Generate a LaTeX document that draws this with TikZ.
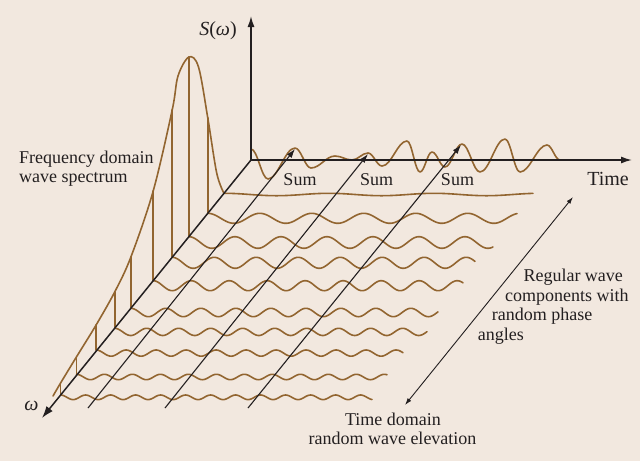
\documentclass[tikz,border=0pt]{standalone}
\usepackage{fontspec}
\setmainfont{Liberation Serif}
\usetikzlibrary{arrows.meta}
\definecolor{bg}{RGB}{242,232,223}
\definecolor{wavebrown}{RGB}{146,101,48}
\definecolor{ink}{RGB}{35,31,32}
\begin{document}
\begin{tikzpicture}[x=1pt,y=-1pt,
  wave/.style={draw=wavebrown, line width=1.6pt, line join=round, line cap=round},
  blk/.style={draw=ink, line width=1.1pt},
  axisline/.style={draw=ink, line width=1.5pt, -{Latex[length=11pt,width=7pt]}},
  sumarrow/.style={draw=ink, line width=1.1pt, -{Latex[length=9pt,width=6pt]}},
  dblarrow/.style={draw=ink, line width=0.9pt, {Latex[length=7pt,width=4.5pt]}-{Latex[length=7pt,width=4.5pt]}},
  lbl/.style={text=ink, font=\fontsize{18}{20}\selectfont, inner sep=0pt},
  biglbl/.style={text=ink, font=\fontsize{20}{22}\selectfont, inner sep=0pt}]
\fill[bg] (0,0) rectangle (640,461);
\useasboundingbox (0,0) rectangle (640,461);

% origin and axis ends
\coordinate (O) at (251,160);
\coordinate (Stip) at (251,16);
\coordinate (Ttip) at (632,160);
\coordinate (Wtip) at (42,418);

% regular wave rows: y-start / x-start / x-end / amplitude / wavelength
\foreach \ys/\xs/\xe/\A/\L [count=\i] in {
  193.3/224.0/533/1.2/105,
  213.3/207.8/517/5.0/52,
  236.7/188.9/493/5.8/46,
  257.3/172.2/475/5.5/42,
  280.7/153.2/463/5.0/38,
  308.3/130.9/438/4.2/35,
  328.3/114.7/427/3.6/32,
  350.0/96.1/403/3.1/30,
  374.3/76.4/387/2.7/28,
  395.0/60.6/372/2.3/25}{
  \coordinate (r\i) at (\xs,\ys);
  \draw[wave] plot[domain=\xs:\xe, samples=260] (\x, {\ys+\A*(1-cos(360/\L*(\x-\xs)))});
}

% spectrum tops
\foreach \xs/\yt [count=\i from 2] in {207.8/118, 188.9/57, 172.2/110, 153.2/191, 130.9/257, 114.7/292, 96.1/325, 76.4/357, 60.6/383}{
  \coordinate (s\i) at (\xs,\yt);
  \draw[wave] (r\i) -- (s\i);
}

% spectrum curve
\draw[wave] plot[smooth, tension=0.55] coordinates {
  (53,396) (60.6,383) (76.4,357) (96.1,325) (114.7,292) (130.9,257)
  (153.2,191) (172.2,110) (178,76) (188.9,57) (198.5,67) (207.8,118)
  (216.7,173) (224,193.3)};

% sum wave (time domain)
\draw[wave] (251,149)
  .. controls +(6.5,0) and +(-6.5,0) .. (268,179)
  .. controls +(10,0) and +(-10,0) .. (295,148)
  .. controls +(6,0) and +(-6,0) .. (311,168)
  .. controls +(9,0) and +(-9,0) .. (335,156)
  .. controls +(6.5,0) and +(-6.5,0) .. (352,160)
  .. controls +(6,0) and +(-6,0) .. (368,153)
  .. controls +(5.3,0) and +(-5.3,0) .. (382,166)
  .. controls +(9.5,0) and +(-9.5,0) .. (407,141)
  .. controls +(5,0) and +(-5,0) .. (420,172)
  .. controls +(4.6,0) and +(-4.6,0) .. (432,152)
  .. controls +(5,0) and +(-5,0) .. (445,167)
  .. controls +(6.5,0) and +(-6.5,0) .. (462,144)
  .. controls +(6.8,0) and +(-6.8,0) .. (480,172)
  .. controls +(9.5,0) and +(-9.5,0) .. (505,139)
  .. controls +(5.7,0) and +(-5.7,0) .. (520,172)
  .. controls +(10,0) and +(-10,0) .. (547,145)
  .. controls +(5,0) and +(-5,0) .. (560,160);

% axes
\draw[axisline] (O) -- (Stip);
\draw[axisline] (O) -- (Ttip);
\draw[draw=ink, line width=1.5pt, -{Latex[length=12pt,width=8pt]}] (O) -- (Wtip);

% summation arrows
\coordinate (b1) at (88,408);
\coordinate (b2) at (165,408);
\coordinate (b3) at (248,408);
\coordinate (t1) at (295,149);
\coordinate (t2) at (368,154);
\coordinate (t3) at (461,145);
\draw[sumarrow] (b1) -- (t1);
\draw[sumarrow] (b2) -- (t2);
\draw[sumarrow] (b3) -- (t3);

% double arrow
\coordinate (d1) at (573,197);
\coordinate (d2) at (405,405);
\draw[dblarrow] (d2) -- (d1);

% labels
\node[biglbl, anchor=base] (slabel) at (218,35) {\textit{S}(\textit{ω})};
\node[biglbl, anchor=base] (wlabel) at (31.5,410) {\textit{ω}};
\node[biglbl, anchor=base] (time) at (608,185) {Time};
\node[lbl, anchor=base] (sum1) at (300,185) {Sum};
\node[lbl, anchor=base] (sum2) at (376.7,185) {Sum};
\node[lbl, anchor=base] (sum3) at (457.5,185) {Sum};
\node[lbl, anchor=base west] (fd1) at (19,163) {Frequency domain};
\node[lbl, anchor=base west] (fd2) at (19,182) {wave spectrum};
\node[lbl, anchor=base west] (rw1) at (523.3,281) {Regular wave};
\node[lbl, anchor=base west] (rw2) at (505,301) {components with};
\node[lbl, anchor=base west] (rw3) at (491.7,320.7) {random phase};
\node[lbl, anchor=base west] (rw4) at (477.7,340) {angles};
\node[lbl, anchor=base] (td1) at (393,425) {Time domain};
\node[lbl, anchor=base] (td2) at (392.5,444) {random wave elevation};
\end{tikzpicture}
\end{document}
